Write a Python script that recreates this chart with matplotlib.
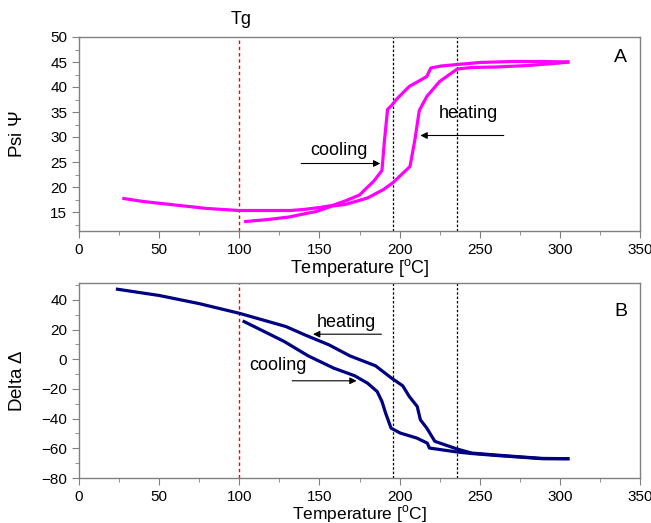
import numpy as np
import matplotlib
matplotlib.use("Agg")
from matplotlib import pyplot as plt
from matplotlib.ticker import MultipleLocator

plt.rcParams['font.family'] = ['Liberation Sans', 'DejaVu Sans']
plt.rcParams['mathtext.fontset'] = 'custom'
plt.rcParams['mathtext.rm'] = 'Liberation Sans'

# panel A: Psi vs temperature
psi_a_T = [28, 40, 60, 80, 100, 115, 132, 140, 150, 158, 166, 175, 184, 189, 190.5,
           192.5, 195, 198, 202, 206, 211, 217, 219.5, 226, 236, 250, 270, 290, 305]
psi_a = [17.7, 17.1, 16.4, 15.7, 15.3, 15.3, 15.3, 15.5, 15.9, 16.3, 17.2, 18.4, 21.2, 23.3, 29.0,
         35.5, 36.3, 37.5, 38.8, 40.1, 41.0, 42.1, 43.8, 44.2, 44.5, 44.9, 45.1, 45.1, 45.0]
psi_b_T = [104, 118, 131, 140, 148, 158, 166, 180, 190, 196, 206.5, 209.6, 212.3, 217,
           225, 236, 245, 260, 280, 300, 305]
psi_b = [13.1, 13.5, 14.0, 14.6, 15.1, 16.2, 16.5, 17.8, 19.5, 20.9, 24.1, 29.5, 35.3, 38.1,
         41.1, 43.6, 43.9, 44.0, 44.3, 44.8, 45.0]

# panel B: Delta vs temperature
delta_a_T = [24, 50, 75, 100, 129, 141, 156, 169, 185, 195, 202, 206, 211, 213,
             217, 222, 236, 245, 260, 276, 289, 305]
delta_a = [47.2, 43.0, 37.5, 31.0, 22.1, 16.4, 9.7, 2.3, -4.4, -12.7, -17.9, -25.0, -31.8, -40.8,
           -46.4, -55.3, -60.5, -63.2, -64.5, -65.8, -66.8, -67.0]
delta_b_T = [103, 115, 128, 143, 159, 172, 180, 186, 189, 191.3, 194.7, 200.4, 210.8, 217.3,
             218.6, 236, 245, 260, 276, 289, 305]
delta_b = [25.4, 19.0, 12.0, 2.3, -6.0, -11.1, -16.1, -21.7, -28.4, -36.3, -46.4, -49.7, -53.1, -56.5,
           -59.8, -62.5, -63.5, -64.8, -66.0, -67.0, -67.0]

Tg = 100
vlines_T = [196, 236]

fig = plt.figure(figsize=(6.51, 5.23), dpi=100)
axA = fig.add_axes([79/651, 1-231/523, 561/651, 194/523])
axB = fig.add_axes([79/651, 1-478/523, 561/651, 195/523])

spine_col = '#808080'
arrow_kw = dict(arrowstyle='-|>', color='black', lw=0.8, mutation_scale=10, shrinkA=0, shrinkB=0)

for ax in (axA, axB):
    for s in ax.spines.values():
        s.set_color(spine_col)
        s.set_linewidth(1.0)
    ax.set_xlim(0, 350)
    ax.xaxis.set_major_locator(MultipleLocator(50))
    ax.xaxis.set_minor_locator(MultipleLocator(25))
    ax.tick_params(which='both', direction='out', colors=spine_col, labelcolor='black',
                   labelsize=11, top=False, right=False)
    ax.tick_params(which='major', length=5)
    ax.tick_params(which='minor', length=3)
    ax.axvline(Tg, color='red', lw=1.0, ls=(0, (2.5, 2)))
    for t in vlines_T:
        ax.axvline(t, color='black', lw=0.9, ls=(0, (2, 1.5)))
    ax.yaxis.set_label_coords(-0.095, 0.5)

axA.set_xlabel('Temperature [$^\\mathrm{o}$C]', fontsize=13, labelpad=0)
axB.set_xlabel('Temperature [$^\\mathrm{o}$C]', fontsize=12.5, labelpad=-0.5)

axA.plot(psi_a_T, psi_a, color='#FF00FF', lw=2.3)
axA.plot(psi_b_T, psi_b, color='#FF00FF', lw=2.3)
axA.set_ylim(11.2, 50)
axA.yaxis.set_minor_locator(MultipleLocator(2.5))
axA.set_yticks([15, 20, 25, 30, 35, 40, 45, 50])
axA.set_ylabel('Psi $\\Psi$', fontsize=13.5)
axA.text(337.8, 45.8, 'A', fontsize=14, ha='center', va='center')
axA.text(101, 53.6, 'Tg', fontsize=13, ha='center', va='center', clip_on=False)
axA.text(162, 27.3, 'cooling', fontsize=13, ha='center', va='center')
axA.annotate('', xy=(188, 24.7), xytext=(138.7, 24.7), arrowprops=arrow_kw)
axA.text(242.8, 34.7, 'heating', fontsize=13, ha='center', va='center')
axA.annotate('', xy=(213, 30.3), xytext=(265, 30.3), arrowprops=arrow_kw)

axB.plot(delta_a_T, delta_a, color='#000080', lw=2.3)
axB.plot(delta_b_T, delta_b, color='#000080', lw=2.3)
axB.set_ylim(-80, 51.4)
axB.yaxis.set_major_locator(MultipleLocator(20))
axB.yaxis.set_minor_locator(MultipleLocator(10))
axB.set_ylabel('Delta $\\Delta$', fontsize=13.5)
axB.text(337.8, 32, 'B', fontsize=14, ha='center', va='center')
axB.text(166.7, 24.7, 'heating', fontsize=13, ha='center', va='center')
axB.annotate('', xy=(146, 16.9), xytext=(188.7, 16.9), arrowprops=arrow_kw)
axB.text(124, -4.4, 'cooling', fontsize=13, ha='center', va='center')
axB.annotate('', xy=(173.2, -14.5), xytext=(133, -14.5), arrowprops=arrow_kw)

fig.savefig('out.png', dpi=100)
